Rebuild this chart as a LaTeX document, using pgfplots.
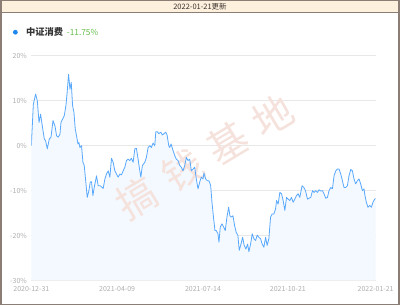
\documentclass[border=0pt]{standalone}
\usepackage{fontspec}
\setmainfont{Noto Sans CJK SC}
\usepackage{pgfplots}
\usepackage{pgfplotstable}
\pgfplotsset{compat=1.18}
\definecolor{linec}{RGB}{88,168,252}
\definecolor{gridc}{RGB}{232,232,232}
\definecolor{tickc}{RGB}{175,175,175}
\definecolor{headbg}{RGB}{253,241,222}
\definecolor{framec}{RGB}{140,126,116}
\definecolor{headtext}{RGB}{60,50,45}
\definecolor{dotc}{RGB}{30,136,240}
\definecolor{namec}{RGB}{51,51,51}
\definecolor{greenc}{RGB}{98,190,70}
\definecolor{fillc}{RGB}{244,249,255}
\definecolor{wmc}{RGB}{245,226,220}

\pgfplotstableread{
x y
0 0
2 9.2
4.3 11.5
6 10
7.7 5.2
9.3 7
11 4.4
13 1.5
14.3 1.1
16 -0.7
18 1.5
19.7 1.9
21.7 5.6
23.7 4.4
25.3 2.2
27 1.9
28.7 2.6
29.7 5.2
31.3 5.9
33 6.7
34.7 9
36 12.2
37.3 15.9
38.7 12.6
40 14.1
41.3 9
42.7 7.4
44 3.7
45.3 2.2
46.7 0.4
47.7 0.7
48.7 -0.4
50.3 0
51.7 -3.7
53 -4.4
54.3 -7.4
56 -11.5
57.7 -10
59 -8.1
60.3 -8
61.7 -11.1
63 -9.3
65.3 -6.7
67 -8.9
69 -8.9
71 -9.3
72 -9.5
73.7 -7.4
75.3 -6.3
77 -5.6
78.7 -7
80.3 -2.8
82 -3.7
83.7 -5.6
85.3 -6.3
87 -7
88.7 -6.3
90.3 -6.5
92 -5.6
93.7 -4.8
95.3 -3.3
97 -3
98.7 -3.3
100.3 -2.8
102 -3.7
103.7 -0.7
105.3 -0.6
107 -3
108.7 -5.6
109.7 -7
111.3 -4.4
113.7 -3.7
115.3 -2.6
117 -0.4
118.7 0
120.3 -0.4
122 0.6
123.7 0
124.7 3.1
126.3 3.1
127.7 2.7
129.7 3
131.3 2.4
133 2.7
134.7 3
136 2.4
137.7 0
138.7 -0.4
140 0.4
142 -1.1
143.7 -2.2
145.3 -3
147 -3.3
148.7 -4.4
150.3 -4.8
152 -5.6
153.7 -4.4
155.3 -2.6
157 -3.3
158.7 -3
160.3 -5.6
162 -5.2
163.7 -4.8
165.3 -7.4
167 -9.6
168.7 -8.1
170.3 -7
172 -7.4
173 -6.1
174.7 -7.4
176.3 -7.8
178 -7.8
179.7 -8.9
181 -12.6
182.7 -16.3
184 -18.9
185.3 -18.9
187 -19.6
188 -21.5
189.3 -18.1
191 -17.4
192.7 -18.1
194.3 -18.9
196 -15.9
197.7 -13.7
199 -15.6
200.3 -15.9
202 -15.6
203.7 -17.8
205.3 -19.3
207 -20
208.3 -23.3
209.7 -22.2
211.7 -20.4
213.3 -22.2
215 -23
216.7 -21.9
218 -23.6
219.7 -21.9
221.3 -19.6
223 -20.7
224.7 -21.1
226.3 -19.9
228 -20.4
229.7 -20.7
231.3 -21.9
233 -22.6
234.7 -20.4
236.3 -22.2
238 -20.7
239.7 -15.9
241.3 -15.2
243 -15.2
244.7 -14.1
245.7 -12.2
247.3 -13
249 -10.4
250.7 -10.7
252.3 -12.2
254 -14.4
255.7 -11.5
257.3 -11.9
259 -12.2
260.7 -11.5
262.3 -12.6
264 -11.9
265.7 -11.1
267.3 -10.7
269 -11.5
271.3 -8.9
273 -9.3
274.7 -10
276.7 -11.9
278.3 -11.7
280 -11.5
281.7 -10
283.3 -10.4
285 -10
286.7 -10.4
288.3 -9.8
290 -10.1
291.7 -10
293.3 -10.7
295 -11.7
296.7 -11.5
298.3 -10
300 -9.3
301.7 -9.6
303.3 -6.7
305 -5.6
306.7 -5.2
308.3 -5.2
310 -6.3
311.7 -7.8
313.3 -9.3
315 -9.3
316.7 -8.9
318.3 -6.7
320 -5.3
321.7 -5.6
323.3 -7.4
325 -8.5
326.7 -7.8
328.3 -7.4
330 -8.5
331.7 -10
333.3 -9.6
334.3 -11.1
335.7 -12.6
337.3 -13.7
339 -13.3
340.7 -13.7
342.3 -12.6
344 -11.9
345 -11.75
}\data

\begin{document}
\begin{tikzpicture}
\fill[white] (0pt,0pt) rectangle (400pt,306pt);
\fill[headbg] (0pt,293.3pt) rectangle (400pt,306pt);
\draw[framec, line width=0.8pt] (0pt,293.3pt) -- (400pt,293.3pt);
\node[font=\fontsize{7.5}{8}\selectfont, text=headtext, inner sep=0pt] at (200pt,299.6pt) {2022-01-21更新};
\fill[dotc] (15pt,273.7pt) circle (2.4pt);
\node[anchor=west, font=\fontsize{9.3}{10}\selectfont\bfseries, text=namec, inner sep=0pt] at (25.5pt,273.7pt) {中证消费};
\node[anchor=west, font=\fontsize{8.3}{9}\selectfont, text=greenc, inner sep=0pt] at (66.5pt,273.7pt) {-11.75\%};
\begin{axis}[
  at={(31pt,25pt)}, anchor=south west,
  scale only axis, width=345pt, height=225pt,
  xmin=0, xmax=345, ymin=0, ymax=50,
  axis line style={draw=none},
  major tick length=0pt,
  ymajorgrids, grid style={gridc, line width=0.8pt},
  ytick={0,10,20,30,40,50},
  yticklabels={-30\%,-20\%,-10\%,0\%,10\%,20\%},
  xtick={0,86,172,257,345},
  xticklabels={2020-12-31,2021-04-09,2021-07-14,2021-10-21,2022-01-21},
  ticklabel style={font=\fontsize{7}{8}\selectfont, text=tickc},
  xticklabel style={yshift=-2.5pt},
  yticklabel style={xshift=-1pt},
]
\addplot[fill=fillc, draw=none, forget plot] table[x=x, y expr=\thisrow{y}+30] {\data} \closedcycle;
\node[rotate=31, text=wmc, font=\fontsize{40}{44}\selectfont, inner sep=0pt] at (axis cs:174,27.5) {搞\hspace{13pt}钱\hspace{13pt}基\hspace{13pt}地};
\addplot[linec, line width=0.8pt, line join=round] table[x=x, y expr=\thisrow{y}+30] {\data};
\end{axis}
\draw[framec, line width=1.5pt] (0.75pt,0.75pt) rectangle (399.25pt,305.25pt);
\end{tikzpicture}
\end{document}
